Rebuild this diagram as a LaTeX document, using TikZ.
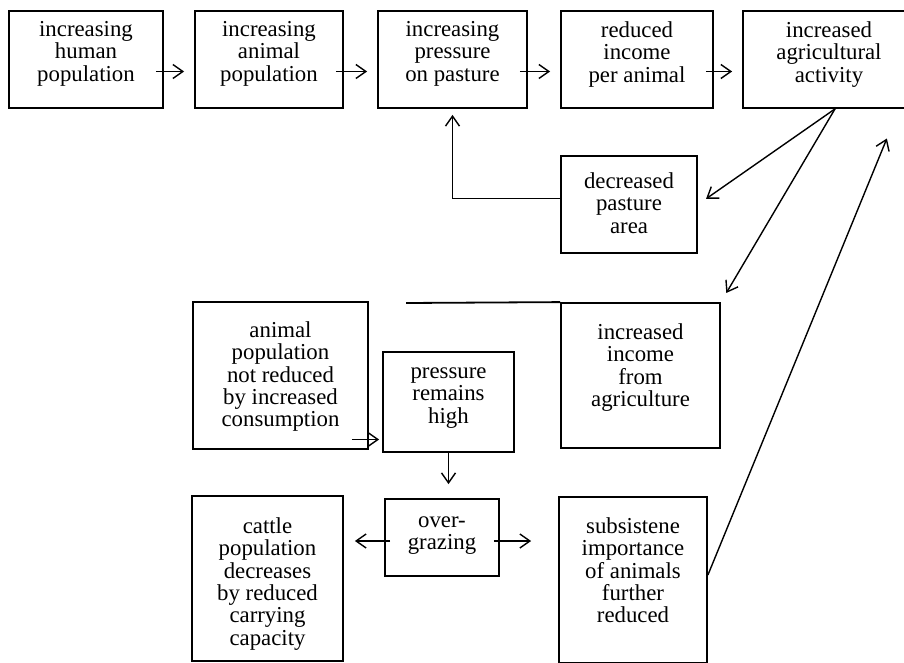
\documentclass[tikz,border=0pt]{standalone}
\usepackage{fontspec}
\setmainfont{Liberation Serif}
\usetikzlibrary{arrows.meta,positioning}

\begin{document}
\begin{tikzpicture}[
  x=0.5pt, y=-0.5pt,
  box/.style={rectangle, draw, line width=0.9pt, inner sep=0pt, minimum height=48.5pt},
  txt/.style={align=center, inner sep=0pt, font=\fontsize{11.4}{11.2}\selectfont, execute at begin node=\strut},
  arr/.style={-{Straight Barb[length=5pt,width=7pt]}, line width=0.7pt}
]
  \useasboundingbox (0,0) rectangle (904,663);

  % top row
  \node[box, minimum width=77pt] (hum) at (86,59.5) {};
  \node[box, minimum width=74pt] (ani) at (269,59.5) {};
  \node[box, minimum width=74.5pt] (pre) at (452.5,59.5) {};
  \node[box, minimum width=76pt] (red) at (637,59.5) {};
  \node[box, minimum width=86pt] (agr) at (829,59.5) {};
  \node[txt, below=5.5pt of hum.north] (hum-t) {increasing\\human\\population};
  \node[txt, below=5.5pt of ani.north] (ani-t) {increasing\\animal\\population};
  \node[txt, below=5.5pt of pre.north] (pre-t) {increasing\\pressure\\on pasture};
  \node[txt, below=5.5pt of red.north] (red-t) {reduced\\income\\per animal};
  \node[txt, below=5.5pt of agr.north] (agr-t) {increased\\agricultural\\activity};

  % middle
  \node[box, minimum width=68pt] (dec) at (629,204.5) {};
  \node[txt, below=8.5pt of dec.north] (dec-t) {decreased\\pasture\\area};
  \node[box, minimum width=79.5pt, minimum height=72.5pt] (inc) at (640.5,375.5) {};
  \node[txt, below=10.5pt of inc.north] (inc-t) {increased\\income\\from\\agriculture};
  \node[box, minimum width=87.5pt, minimum height=73.5pt] (anp) at (280.5,375.5) {};
  \node[txt, below=10pt of anp.north] (anp-t) {animal\\population\\not reduced\\by increased\\consumption};
  \node[box, minimum width=65.5pt, minimum height=50pt] (prh) at (448.5,402) {};
  \node[txt, below=8pt of prh.north] (prh-t) {pressure\\remains\\high};
  \coordinate (stub) at (406,303);

  % bottom row
  \node[box, minimum width=57pt, minimum height=38.5pt] (ovg) at (442,537.5) {};
  \node[txt, below=9pt of ovg.north] (ovg-t) {over-\\grazing};
  \node[box, minimum width=75.5pt, minimum height=82.5pt] (cat) at (267.5,578.5) {};
  \node[txt, below=11pt of cat.north] (cat-t) {cattle\\population\\decreases\\by reduced\\carrying\\capacity};
  \node[box, minimum width=74pt, minimum height=83pt] (sub) at (633,580) {};
  \node[txt, below=10.5pt of sub.north] (sub-t) {subsistene\\importance\\of animals\\further\\reduced};

  % connectors
  \draw[arr, shorten <=-4pt, shorten >=5pt] ([yshift=-6pt]hum.east) -- ([yshift=-6pt]ani.west);
  \draw[arr, shorten <=-4pt, shorten >=5pt] ([yshift=-6pt]ani.east) -- ([yshift=-6pt]pre.west);
  \draw[arr, shorten <=-4pt, shorten >=5pt] ([yshift=-6pt]pre.east) -- ([yshift=-6pt]red.west);
  \draw[arr, shorten <=-4pt, shorten >=5pt] ([yshift=-6pt]red.east) -- ([yshift=-6pt]agr.west);
  \draw[arr, shorten >=3pt] ([yshift=3pt]dec.west) -| (pre.south);
  \draw[arr, shorten >=5pt] ([xshift=3pt]agr.south) -- (dec.east);
  \draw[arr, shorten >=5.3pt] ([xshift=3pt]agr.south) -- (inc.north east);
  \draw[arr, shorten >=16pt] ([yshift=2.5pt]sub.east) -- ([xshift=35pt]agr.south);
  \draw[line width=0.9pt] (inc.north west) -- (stub);
  \draw[arr, shorten <=-8.5pt, shorten >=1.5pt] ([yshift=-32pt]anp.east) -- ([yshift=-32pt]anp.east -| prh.west);
  \draw[arr, shorten >=7pt] (prh.south) -- (prh.south |- ovg.north);
  \draw[arr, shorten <=-3pt, shorten >=5.5pt] ([yshift=-1.75pt]ovg.west) -- ([yshift=-1.75pt]ovg.west -| cat.east);
  \draw[arr, shorten <=-3pt, shorten >=13.5pt] ([yshift=-1.75pt]ovg.east) -- ([yshift=-1.75pt]ovg.east -| sub.west);
\end{tikzpicture}
\end{document}
